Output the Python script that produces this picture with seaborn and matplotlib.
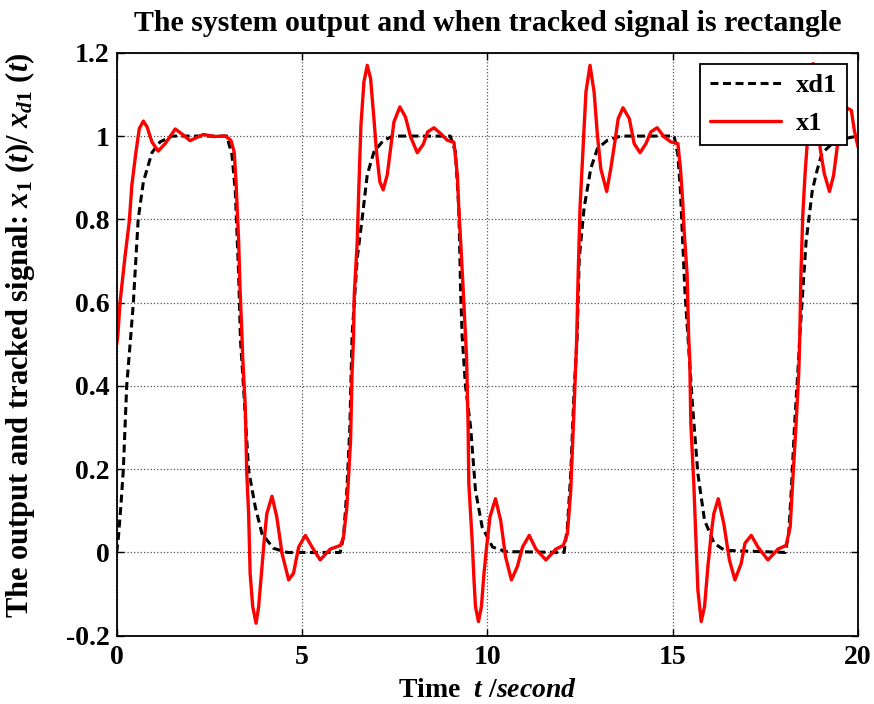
import matplotlib
matplotlib.use("Agg")
import matplotlib.pyplot as plt
import seaborn as sns

# ---- data ----
t_xd1 = [0.0, 0.05, 0.12, 0.18, 0.27, 0.38, 0.45, 0.58, 0.72, 0.95, 1.17, 1.5,
         2.97, 3.11, 3.2, 3.29, 3.34, 3.42, 3.56, 3.74, 3.92, 4.23, 4.6,
         6.03, 6.12, 6.21, 6.29, 6.35, 6.49, 6.62, 6.76, 6.94, 7.2, 7.46,
         9.0, 9.14, 9.23, 9.28, 9.32, 9.41, 9.55, 9.68, 9.86, 10.14, 10.5,
         12.07, 12.16, 12.25, 12.34, 12.42, 12.48, 12.61, 12.79, 12.97, 13.24, 13.6,
         15.04, 15.14, 15.21, 15.27, 15.33, 15.41, 15.54, 15.68, 15.86, 16.12, 16.4,
         18.04, 18.13, 18.2, 18.29, 18.4, 18.43, 18.6, 18.77, 18.9, 19.03, 19.4, 20.0]
xd1 = [0.0, 0.04, 0.12, 0.2, 0.4, 0.52, 0.6, 0.8, 0.89, 0.96, 0.986, 1.0,
       1.0, 0.955, 0.867, 0.668, 0.51, 0.40, 0.197, 0.109, 0.045, 0.01, 0.0,
       0.0, 0.037, 0.149, 0.30, 0.52, 0.707, 0.80, 0.907, 0.962, 0.99, 1.0,
       1.0, 0.962, 0.827, 0.628, 0.52, 0.40, 0.30, 0.149, 0.061, 0.013, 0.002,
       0.0, 0.061, 0.189, 0.388, 0.51, 0.707, 0.827, 0.922, 0.97, 0.99, 1.0,
       1.0, 0.955, 0.867, 0.747, 0.628, 0.52, 0.348, 0.189, 0.077, 0.022, 0.005,
       0.0, 0.045, 0.149, 0.309, 0.468, 0.52, 0.747, 0.871, 0.919, 0.959, 0.99, 1.0]

t_x1 = [0.0, 0.03, 0.09, 0.22, 0.34, 0.41, 0.52, 0.61, 0.72, 0.82, 0.95, 1.12, 1.31,
        1.58, 1.76, 1.98, 2.34, 2.61, 2.93, 3.08, 3.17, 3.22, 3.29, 3.33, 3.38,
        3.40, 3.47, 3.51, 3.56, 3.60, 3.67, 3.76, 3.83, 3.92, 3.98, 4.05, 4.19,
        4.32, 4.46, 4.64, 4.77, 4.91, 5.09, 5.27, 5.49, 5.76, 6.04, 6.12, 6.21,
        6.31, 6.35, 6.39, 6.41, 6.49, 6.53, 6.59, 6.67, 6.76, 6.85, 6.94, 7.01,
        7.10, 7.19, 7.30, 7.39, 7.48, 7.64, 7.79, 7.93, 8.11, 8.27, 8.39, 8.56,
        8.74, 8.92, 9.10, 9.19, 9.23, 9.28, 9.35, 9.41, 9.44, 9.48, 9.50, 9.59,
        9.64, 9.68, 9.76, 9.84, 9.91, 9.98, 10.07, 10.22, 10.36, 10.49, 10.65,
        10.81, 10.95, 11.13, 11.31, 11.58, 11.85, 12.05, 12.16, 12.25, 12.34,
        12.41, 12.45, 12.50, 12.59, 12.66, 12.77, 12.88, 12.97, 13.06, 13.22,
        13.33, 13.44, 13.53, 13.66, 13.83, 13.96, 14.12, 14.28, 14.41, 14.58,
        14.77, 14.95, 15.14, 15.21, 15.27, 15.31, 15.39, 15.43, 15.46, 15.49,
        15.57, 15.63, 15.68, 15.77, 15.86, 15.95, 16.04, 16.11, 16.23, 16.38,
        16.53, 16.68, 16.85, 16.95, 17.12, 17.30, 17.57, 17.84, 18.06, 18.17,
        18.24, 18.33, 18.40, 18.43, 18.46, 18.51, 18.57, 18.62, 18.70, 18.79,
        18.88, 18.98, 19.09, 19.23, 19.34, 19.43, 19.52, 19.64, 19.82, 19.90, 20.0]
x1 = [0.5, 0.52, 0.6, 0.707, 0.795, 0.883, 0.962, 1.018, 1.036, 1.022, 0.986, 0.964, 0.982,
      1.017, 1.005, 0.989, 1.004, 0.999, 1.0, 0.99, 0.962, 0.89, 0.747, 0.63, 0.52,
      0.468, 0.348, 0.189, 0.093, -0.05, -0.13, -0.17, -0.13, -0.034, 0.029, 0.093, 0.135,
      0.085, -0.002, -0.066, -0.05, 0.013, 0.041, 0.013, -0.018, 0.008, 0.017, 0.037, 0.109,
      0.269, 0.43, 0.52, 0.62, 0.747, 0.867, 1.026, 1.13, 1.17, 1.138, 1.042, 0.962,
      0.89, 0.871, 0.907, 0.97, 1.034, 1.07, 1.046, 0.998, 0.96, 0.98, 1.01, 1.02,
      1.006, 0.99, 0.985, 0.907, 0.827, 0.747, 0.628, 0.52, 0.468, 0.309, 0.165, 0.029,
      -0.066, -0.13, -0.166, -0.13, -0.05, 0.013, 0.085, 0.129, 0.077, -0.01, -0.066,
      -0.034, 0.013, 0.041, 0.008, -0.018, 0.008, 0.017, 0.045, 0.149, 0.348,
      0.51, 0.667, 0.827, 0.986, 1.106, 1.17, 1.106, 1.002, 0.922, 0.867,
      0.922, 0.986, 1.042, 1.068, 1.042, 0.982, 0.96, 0.982, 1.01, 1.02,
      0.998, 0.986, 0.982, 0.922, 0.843, 0.771, 0.667, 0.52, 0.468, 0.309,
      0.165, 0.029, -0.09, -0.166, -0.13, -0.034, 0.045, 0.093, 0.129, 0.069,
      -0.018, -0.066, -0.026, 0.022, 0.041, 0.013, -0.018, 0.008, 0.017, 0.061,
      0.173, 0.309, 0.428, 0.52, 0.667, 0.81, 0.907, 0.97, 1.10, 1.174,
      1.10, 0.97, 0.91, 0.867, 0.905, 0.967, 1.03, 1.07, 1.062, 1.014, 0.974]

x_ticks = [0, 5, 10, 15, 20]
y_ticks = [-0.2, 0, 0.2, 0.4, 0.6, 0.8, 1.0, 1.2]
x_ticklabels = ["0", "5", "10", "15", "20"]
y_ticklabels = ["-0.2", "0", "0.2", "0.4", "0.6", "0.8", "1", "1.2"]

title = "The system output and when tracked signal is rectangle"
xlabel = r"Time  $t\ /second$"
ylabel = r"The output and tracked signal: $x_{\mathit{1}}\ (t)/\ x_{d\mathit{1}}\ (t)$"

# ---- style ----
sns.set_style("ticks")
plt.rcParams["font.family"] = ["Liberation Serif", "DejaVu Serif"]
plt.rcParams["font.weight"] = "bold"
plt.rcParams["mathtext.fontset"] = "custom"
plt.rcParams["mathtext.it"] = "Liberation Serif:italic:bold"
plt.rcParams["mathtext.rm"] = "Liberation Serif:bold"
plt.rcParams["mathtext.bf"] = "Liberation Serif:bold"
for key in ["text.color", "axes.labelcolor", "xtick.color", "ytick.color", "axes.edgecolor"]:
    plt.rcParams[key] = "black"

fig = plt.figure(figsize=(8.74, 7.04), dpi=100)
ax = fig.add_axes([0.1335, 0.097, 0.8482, 0.828])

sns.lineplot(x=t_xd1, y=xd1, ax=ax, color="black", lw=2.2,
             linestyle=(0, (2.6, 1.5)), label="xd1", sort=False, estimator=None)
sns.lineplot(x=t_x1, y=x1, ax=ax, color="#ff0000", lw=2.4,
             label="x1", sort=False, estimator=None)

ax.set_xlim(0, 20)
ax.set_ylim(-0.2, 1.2)
ax.set_xticks(x_ticks)
ax.set_xticklabels(x_ticklabels)
ax.set_yticks(y_ticks)
ax.set_yticklabels(y_ticklabels)
ax.tick_params(direction="in", top=True, right=True, length=5, width=1,
               labelsize=20, colors="black")
ax.tick_params(axis="x", pad=7)
ax.tick_params(axis="y", pad=5)
for lab in ax.get_xticklabels() + ax.get_yticklabels():
    lab.set_fontweight("bold")
for sp in ax.spines.values():
    sp.set_visible(True)
    sp.set_linewidth(1.3)
    sp.set_color("black")

ax.grid(True, linestyle=":", linewidth=0.9, color="#555555")

ax.set_title(title, fontsize=21.5, fontweight="bold", pad=16, color="black")
ax.set_xlabel(xlabel, fontsize=20, fontweight="bold")
ax.set_ylabel(ylabel, fontsize=22, fontweight="bold")
ax.xaxis.set_label_coords(0.5, -0.072)
ax.yaxis.set_label_coords(-0.107, 0.516)

leg = ax.legend(loc="upper right", fontsize=19, frameon=True, fancybox=False,
                edgecolor="black", framealpha=1, borderpad=0.38, labelspacing=0.55,
                handlelength=2.7, handletextpad=0.55, borderaxespad=0.42)
leg.get_frame().set_linewidth(1.3)
for txt in leg.get_texts():
    txt.set_fontweight("bold")

fig.savefig("out.png", dpi=100)
